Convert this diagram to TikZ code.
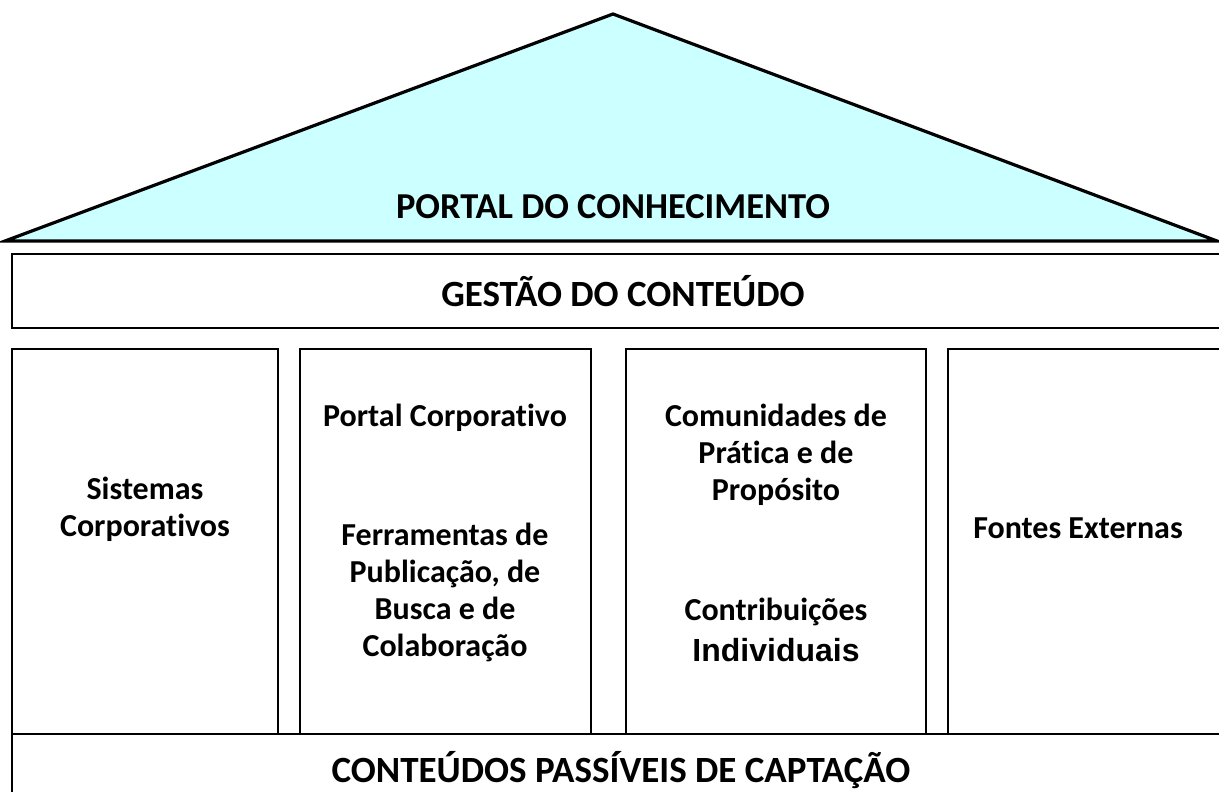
\documentclass[tikz,border=0pt]{standalone}
\usepackage{fontspec}
\setmainfont[Ligatures=NoCommon]{Carlito}
\newfontfamily\arialfont{Liberation Sans}
\definecolor{roofcyan}{HTML}{CCFFFF}
\begin{document}
\begin{tikzpicture}[x=1pt,y=-1pt,
  boxline/.style={draw=black,line width=2.2pt},
  head/.style={font=\bfseries\fontsize{36.5}{40}\selectfont,inner sep=0pt},
  bighead/.style={font=\bfseries\fontsize{37}{42}\selectfont,inner sep=0pt},
  coltext/.style={font=\bfseries\fontsize{32}{37}\selectfont,align=center,inner sep=0pt}]
\useasboundingbox (0,0) rectangle (1219,792);
\clip (0,0) rectangle (1219,792);
% roof
\filldraw[fill=roofcyan,draw=black,line width=3.2pt,line join=miter] (5,241) -- (613,14) -- (1217,241) -- cycle;
\node[head] (portal) at (613,207) {PORTAL DO CONHECIMENTO};
% content management band
\draw[boxline] (1225,254) -- (12,254) -- (12,328) -- (1225,328);
\node[bighead] (gestao) at (623,291) {GESTÃO DO CONTEÚDO};
% columns
\draw[boxline] (12,349) rectangle (278,734);
\draw[boxline] (300,349) rectangle (591,734);
\draw[boxline] (626,349) rectangle (926,734);
\draw[boxline] (1225,349) -- (948,349) -- (948,734);
% base band
\draw[boxline] (1225,734) -- (12,734) -- (12,800);
\node[bighead] (conteudos) at (621,770) {CONTEÚDOS PASSÍVEIS DE CAPTAÇÃO};
% column texts
\node[coltext] (sist) at (145,509) {Sistemas\\Corporativos};
\node[coltext] (portalc) at (445,418) {Portal Corporativo};
\node[coltext] (ferr) at (445,592) {Ferramentas de\\Publicação, de\\Busca e de\\Colaboração};
\node[coltext] (comun) at (776,455) {Comunidades de\\Prática e de\\Propósito};
\node[coltext] (contr) at (776,612) {Contribuições};
\node[font=\arialfont\bfseries\fontsize{32}{36}\selectfont,inner sep=0pt] (indiv) at (776,650) {Individuais};
\node[coltext] (fontes) at (1078,528) {Fontes Externas};
\end{tikzpicture}
\end{document}
